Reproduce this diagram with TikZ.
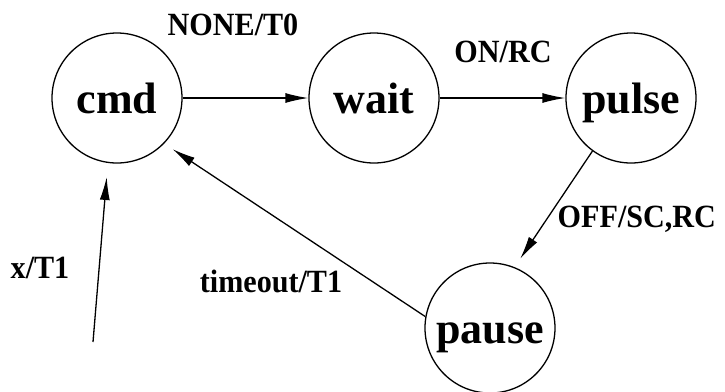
\documentclass[tikz,border=0pt]{standalone}
\usepackage{fontspec}
\setmainfont{Liberation Serif}
\newfontfamily\lblfont{Liberation Serif}[FakeStretch=0.93]
\usetikzlibrary{arrows.meta}

\tikzset{
  state/.style={circle,draw,line width=0.65pt,minimum size=65pt,inner sep=0pt,
    font=\bfseries\fontsize{22}{26}\selectfont,text height=15pt,text depth=0pt},
  trans/.style={line width=0.65pt,-{Latex[length=11.5pt,width=5pt]}},
  lbl/.style={anchor=base,font=\lblfont\bfseries\fontsize{16.2}{19}\selectfont}
}

\begin{document}
\begin{tikzpicture}[x=0.5pt,y=-0.5pt]
\useasboundingbox (0,0) rectangle (725,392);
% states
\node[state] (cmd) at (117,98) {cmd};
\node[state] (wait) at (374,98) {wait};
\node[state] (pulse) at (631,98) {pulse};
\node[state] (pause) at (490,328) {pause};
\coordinate (entry) at (93,342);
% transitions
\draw[trans] (cmd) -- (wait);
\draw[trans] (wait) -- (pulse);
\draw[trans,shorten >=5pt] (pulse.-126) -- (pause.68);
\draw[trans,shorten >=5pt] (pause.170) -- (cmd.-44);
\draw[trans,shorten >=7pt] (entry) -- (cmd.-98);
% labels
\node[lbl] (none) at (233,35) {NONE/T0};
\node[lbl] (onrc) at (503,62) {ON/RC};
\node[lbl,anchor=base east] (offrc) at (723,227) {OFF/SC,RC};
\node[lbl] (xt) at (40,278) {x/T1};
\node[lbl] (tmo) at (271,292) {timeout/T1};
\end{tikzpicture}
\end{document}
